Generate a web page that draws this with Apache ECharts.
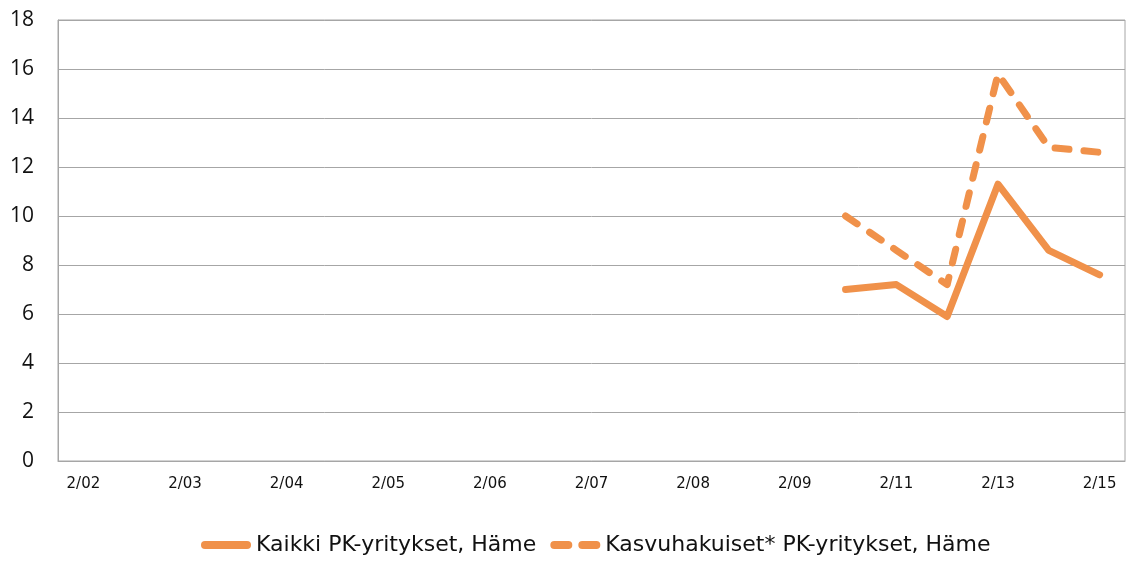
<!DOCTYPE html>
<html>
<head>
<meta charset="utf-8">
<script src="https://cdn.jsdelivr.net/npm/echarts@6/dist/echarts.min.js"></script>
<style>
  html, body { margin: 0; padding: 0; background: #fff; }
  #chart { width: 1131px; height: 563px; }
</style>
</head>
<body>
<div id="chart"></div>
<script>
  // half-year slots up to 2/09, then yearly
  const categories = [
    '2/02', '1/03', '2/03', '1/04', '2/04', '1/05', '2/05', '1/06', '2/06', '1/07', '2/07',
    '1/08', '2/08', '1/09', '2/09', '2/10', '2/11', '2/12', '2/13', '2/14', '2/15'
  ]
  const kaikki = [null, null, null, null, null, null, null, null, null, null, null,
    null, null, null, null, 7.0, 7.2, 5.9, 11.3, 8.6, 7.6]
  const kasvuhakuiset = [null, null, null, null, null, null, null, null, null, null, null,
    null, null, null, null, 10.0, 8.6, 7.2, 15.8, 12.8, 12.6]
  const yTicks = { min: 0, max: 18, interval: 2 }

  const orange = '#F0914A'
  // legend keys: a rounded bar and two rounded dashes
  const solidIcon = 'path://M4,0H46A4,4 0 0 1 46,8H4A4,4 0 0 1 4,0Z'
  const dashIcon = 'path://M4,0H18A4,4 0 0 1 18,8H4A4,4 0 0 1 4,0ZM32,0H46A4,4 0 0 1 46,8H32A4,4 0 0 1 32,0Z'

  const chart = echarts.init(document.getElementById('chart'))

  chart.setOption({
    animation: false,
    grid: {
      left: 58,
      right: 6,
      top: 20,
      bottom: 102,
      show: true,
      borderColor: '#A6A6A6',
      borderWidth: 1
    },
    legend: {
      bottom: 2,
      left: 196,
      itemWidth: 50,
      itemHeight: 8,
      itemGap: 14,
      textStyle: {
        fontFamily: 'DejaVu Sans',
        fontSize: 22,
        color: '#111'
      },
      data: [
        { name: 'Kaikki PK-yritykset, Häme', icon: solidIcon },
        { name: 'Kasvuhakuiset* PK-yritykset, Häme', icon: dashIcon }
      ]
    },
    xAxis: {
      type: 'category',
      data: categories,
      boundaryGap: true,
      axisLine: { lineStyle: { color: '#A6A6A6' } },
      axisTick: { show: false },
      axisLabel: {
        interval: 1,
        margin: 16,
        fontFamily: 'DejaVu Sans',
        fontSize: 15,
        color: '#111'
      }
    },
    yAxis: {
      type: 'value',
      min: yTicks.min,
      max: yTicks.max,
      interval: yTicks.interval,
      axisLine: { show: true, lineStyle: { color: '#A6A6A6' } },
      axisTick: { show: false },
      splitLine: { lineStyle: { color: '#A6A6A6', width: 1 } },
      axisLabel: {
        margin: 24,
        fontFamily: 'Open Sans',
        fontSize: 21,
        color: '#111'
      }
    },
    series: [
      {
        name: 'Kaikki PK-yritykset, Häme',
        type: 'line',
        data: kaikki,
        symbol: 'none',
        color: orange,
        lineStyle: { color: orange, width: 7, cap: 'round', join: 'round' }
      },
      {
        name: 'Kasvuhakuiset* PK-yritykset, Häme',
        type: 'line',
        data: kasvuhakuiset,
        symbol: 'none',
        color: orange,
        lineStyle: { color: orange, width: 7, type: [14, 15], cap: 'round', join: 'round' }
      }
    ]
  })
</script>
</body>
</html>
